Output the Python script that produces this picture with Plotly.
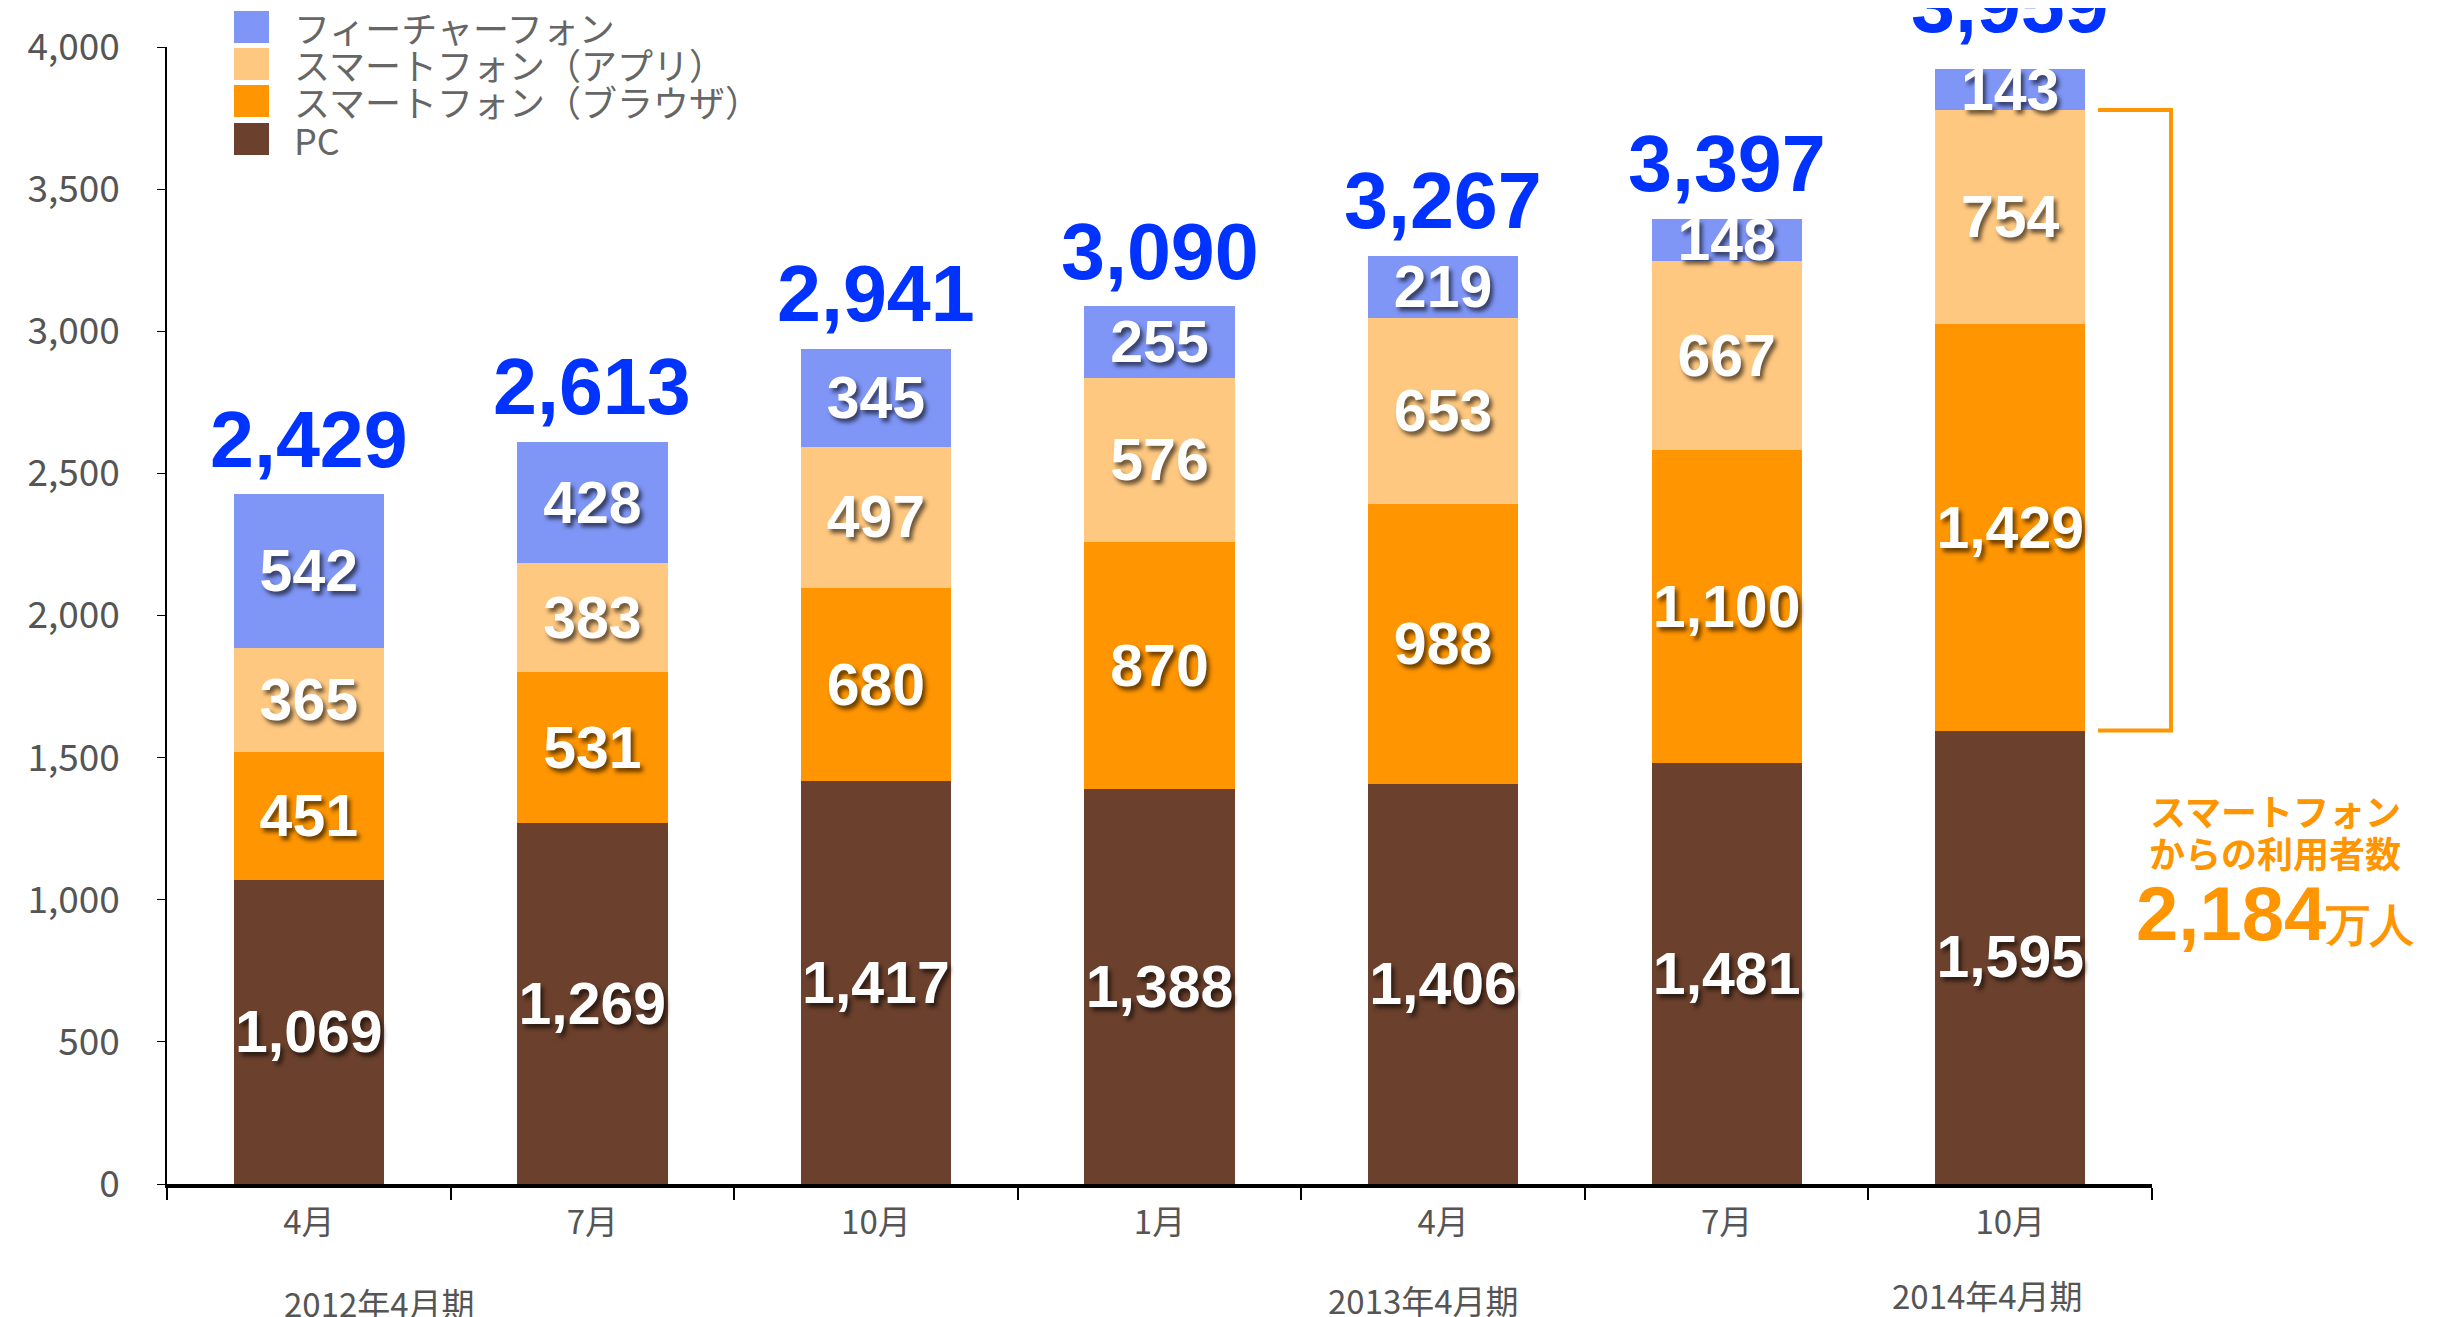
import plotly.graph_objects as go

# -------------------------------------------------------
# Data
# -------------------------------------------------------

months = ["4月", "7月", "10月", "1月", "4月", "7月", "10月"]

pc = [1069, 1269, 1417, 1388, 1406, 1481, 1595]
sp_browser = [451, 531, 680, 870, 988, 1100, 1429]
sp_app = [365, 383, 497, 576, 653, 667, 754]
feature = [542, 428, 345, 255, 219, 148, 143]

totals = [2429, 2613, 2941, 3090, 3267, 3397, 3959]

smartphone_users = 2184  # 万人

series_names = [
    "PC",
    "スマートフォン（ブラウザ）",
    "スマートフォン（アプリ）",
    "フィーチャーフォン",
]
series_values = [pc, sp_browser, sp_app, feature]
series_colors = ["#6B402C", "#FF9500", "#FFC880", "#7F96F7"]

period_labels = ["2012年4月期", "2013年4月期", "2014年4月期"]
period_pos = [0.25, 3.93, 5.92]

x = list(range(len(months)))

# -------------------------------------------------------
# Layout helpers (page pixel -> paper)
# -------------------------------------------------------

W, H = 2449, 1317
OFF = 8  # page body margin
ML, MT = 167 - OFF, 47 - OFF
PW = 2152 - 167
PH = 1184 - 47
MR = W - ML - PW
MB = H - MT - PH

NUM_FONT = "Liberation Sans, Arial, sans-serif"
JP_FONT = "Noto Sans CJK JP, sans-serif"
ORANGE = "#FF9500"


def px_x(v):
    return (v - OFF - ML) / PW


def px_y(v):
    return (MT + PH - (v - OFF)) / PH


fig = go.Figure()

for name, vals, col in zip(series_names, series_values, series_colors):
    fig.add_trace(
        go.Bar(
            x=x,
            y=vals,
            name=name,
            marker=dict(color=col, line=dict(width=0)),
            width=0.53,
            text=[f"{v:,}" for v in vals],
            textposition="inside",
            insidetextanchor="middle",
            textangle=0,
            constraintext="none",
            textfont=dict(
                family=NUM_FONT,
                size=59,
                color="white",
                weight="bold",
                shadow="3px 4px 4px rgba(0,0,0,0.6)",
            ),
            showlegend=False,
        )
    )

# totals above bars
for i, t in enumerate(totals):
    fig.add_annotation(
        x=i, y=t, xref="x", yref="y",
        text=f"{t:,}",
        showarrow=False,
        yanchor="bottom",
        yshift=8,
        font=dict(family=NUM_FONT, size=79, color="#0033FF", weight="bold"),
    )

# period labels under the axis
period_y = [1303, 1300, 1295]
for lab, p, yy in zip(period_labels, period_pos, period_y):
    fig.add_annotation(
        x=p, y=px_y(yy), xref="x", yref="paper",
        text=lab, showarrow=False, xanchor="center", yanchor="middle",
        font=dict(family=JP_FONT, size=33, color="#555555"),
    )

# legend drawn by hand (large swatches)
legend_rows = [27, 64, 101, 139]
for yy, name, col in zip(legend_rows, series_names[::-1], series_colors[::-1]):
    fig.add_shape(
        type="rect", xref="paper", yref="paper",
        x0=px_x(234), x1=px_x(269), y0=px_y(yy - 16), y1=px_y(yy + 16),
        fillcolor=col, line=dict(width=0),
    )
    fig.add_annotation(
        x=px_x(292), y=px_y(yy), xref="paper", yref="paper",
        text=name, showarrow=False, xanchor="left", yanchor="middle",
        font=dict(family=JP_FONT, size=36, color="#666666"),
    )

# bracket for smartphone users
sp_top = pc[-1] + sp_browser[-1] + sp_app[-1]
sp_bot = pc[-1]
bx0, bx1 = px_x(2098), px_x(2171)
fig.add_shape(
    type="path", xref="paper", yref="y",
    path=f"M {bx0},{sp_top} L {bx1},{sp_top} L {bx1},{sp_bot} L {bx0},{sp_bot}",
    line=dict(color=ORANGE, width=4),
)

cx = px_x(2275)
fig.add_annotation(
    x=cx, y=px_y(810), xref="paper", yref="paper",
    text="<b>スマートフォン</b>", showarrow=False,
    xanchor="center", yanchor="middle",
    font=dict(family=JP_FONT, size=36, color=ORANGE),
)
fig.add_annotation(
    x=cx, y=px_y(852), xref="paper", yref="paper",
    text="<b>からの利用者数</b>", showarrow=False,
    xanchor="center", yanchor="middle",
    font=dict(family=JP_FONT, size=36, color=ORANGE),
)
fig.add_annotation(
    x=cx, y=px_y(913), xref="paper", yref="paper",
    text=f"<b>{smartphone_users:,}</b>"
    "<span style='font-size:44px'><b>万人</b></span>",
    showarrow=False,
    xanchor="center", yanchor="middle",
    font=dict(family=NUM_FONT, size=76, color=ORANGE),
)

fig.update_layout(
    width=W,
    height=H,
    barmode="stack",
    plot_bgcolor="white",
    paper_bgcolor="white",
    margin=dict(l=ML, r=MR, t=MT, b=MB),
    showlegend=False,
    xaxis=dict(
        range=[-0.5, 6.5],
        tickvals=x,
        ticktext=months,
        ticks="",
        showgrid=False,
        zeroline=False,
        showline=True,
        linecolor="black",
        linewidth=4,
        automargin=False,
        tickfont=dict(family=JP_FONT, size=33, color="#555555"),
        ticklabelstandoff=6,
        minor=dict(tick0=-0.5, dtick=1, ticks="outside", ticklen=12,
                   tickcolor="black", tickwidth=1.5),
    ),
    yaxis=dict(
        range=[0, 4000],
        dtick=500,
        tickformat=",",
        ticks="outside",
        ticklen=8,
        tickcolor="black",
        showgrid=False,
        zeroline=False,
        showline=True,
        linecolor="black",
        linewidth=1.5,
        automargin=False,
        tickfont=dict(family=JP_FONT, size=37, color="#555555"),
        ticklabelstandoff=30,
    ),
)

fig.write_html("out.html")
